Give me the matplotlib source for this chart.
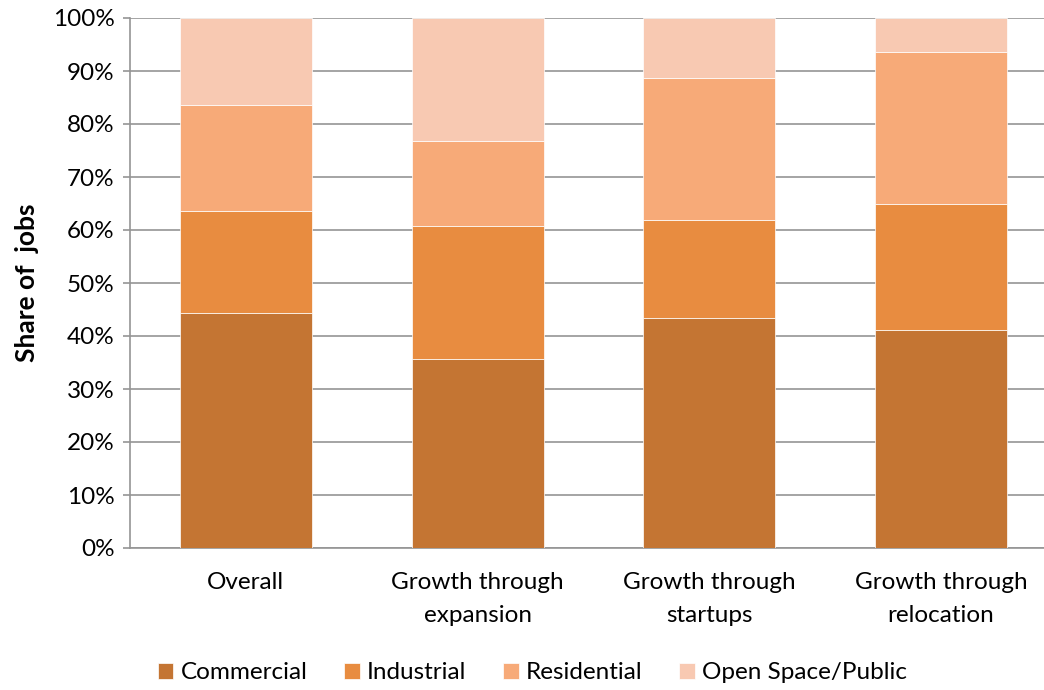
import numpy as np
import matplotlib.pyplot as plt
from matplotlib.ticker import PercentFormatter

plt.rcParams['font.family'] = ['Lato', 'DejaVu Sans']

categories = ['Overall', 'Growth through\nexpansion', 'Growth through\nstartups', 'Growth through\nrelocation']
series = ['Commercial', 'Industrial', 'Residential', 'Open Space/Public']
commercial = [44.3, 35.6, 43.4, 41.1]
industrial = [19.2, 25.2, 18.4, 23.8]
residential = [20.0, 16.0, 26.9, 28.7]
open_space = [16.5, 23.2, 11.3, 6.4]
colors = ['#C47533', '#E88C40', '#F7AA78', '#F8C9B2']

values = [commercial, industrial, residential, open_space]

fig = plt.figure(figsize=(10.44, 6.9), dpi=100)
ax = fig.add_axes([130 / 1044, 142 / 690, 1 - 130 / 1044, 530 / 690])

x = np.arange(len(categories))
bottom = np.zeros(len(categories))
for name, vals, c in zip(series, values, colors):
    ax.bar(x, vals, width=0.57, bottom=bottom, color=c, label=name,
           edgecolor='white', linewidth=0.5, zorder=3)
    bottom += np.array(vals)

ax.set_ylim(0, 100)
ax.set_xlim(-0.5, 3.444)
ax.set_yticks(np.arange(0, 101, 10))
ax.yaxis.set_major_formatter(PercentFormatter(decimals=0))
ax.yaxis.grid(True, color='#959595', linewidth=1.2, zorder=0)
ax.set_xticks(x)
ax.set_xticklabels(categories, fontsize=17.5, linespacing=1.72)
ax.tick_params(axis='x', length=0, pad=17)
ax.tick_params(axis='y', labelsize=17.5, length=5, color='#959595', width=1.2, pad=6)

for side in ['top', 'right']:
    ax.spines[side].set_visible(False)
for side in ['left', 'bottom']:
    ax.spines[side].set_color('#959595')
    ax.spines[side].set_linewidth(1.2)

ax.set_ylabel('Share of  jobs', fontsize=19, fontweight='bold', labelpad=10)

fig.legend(loc='lower center', bbox_to_anchor=(0.51, -0.022), ncol=4, frameon=False,
           fontsize=17.5, handlelength=0.65, handleheight=0.65, handletextpad=0.3,
           columnspacing=1.5)

fig.savefig('out.png', dpi=100)
